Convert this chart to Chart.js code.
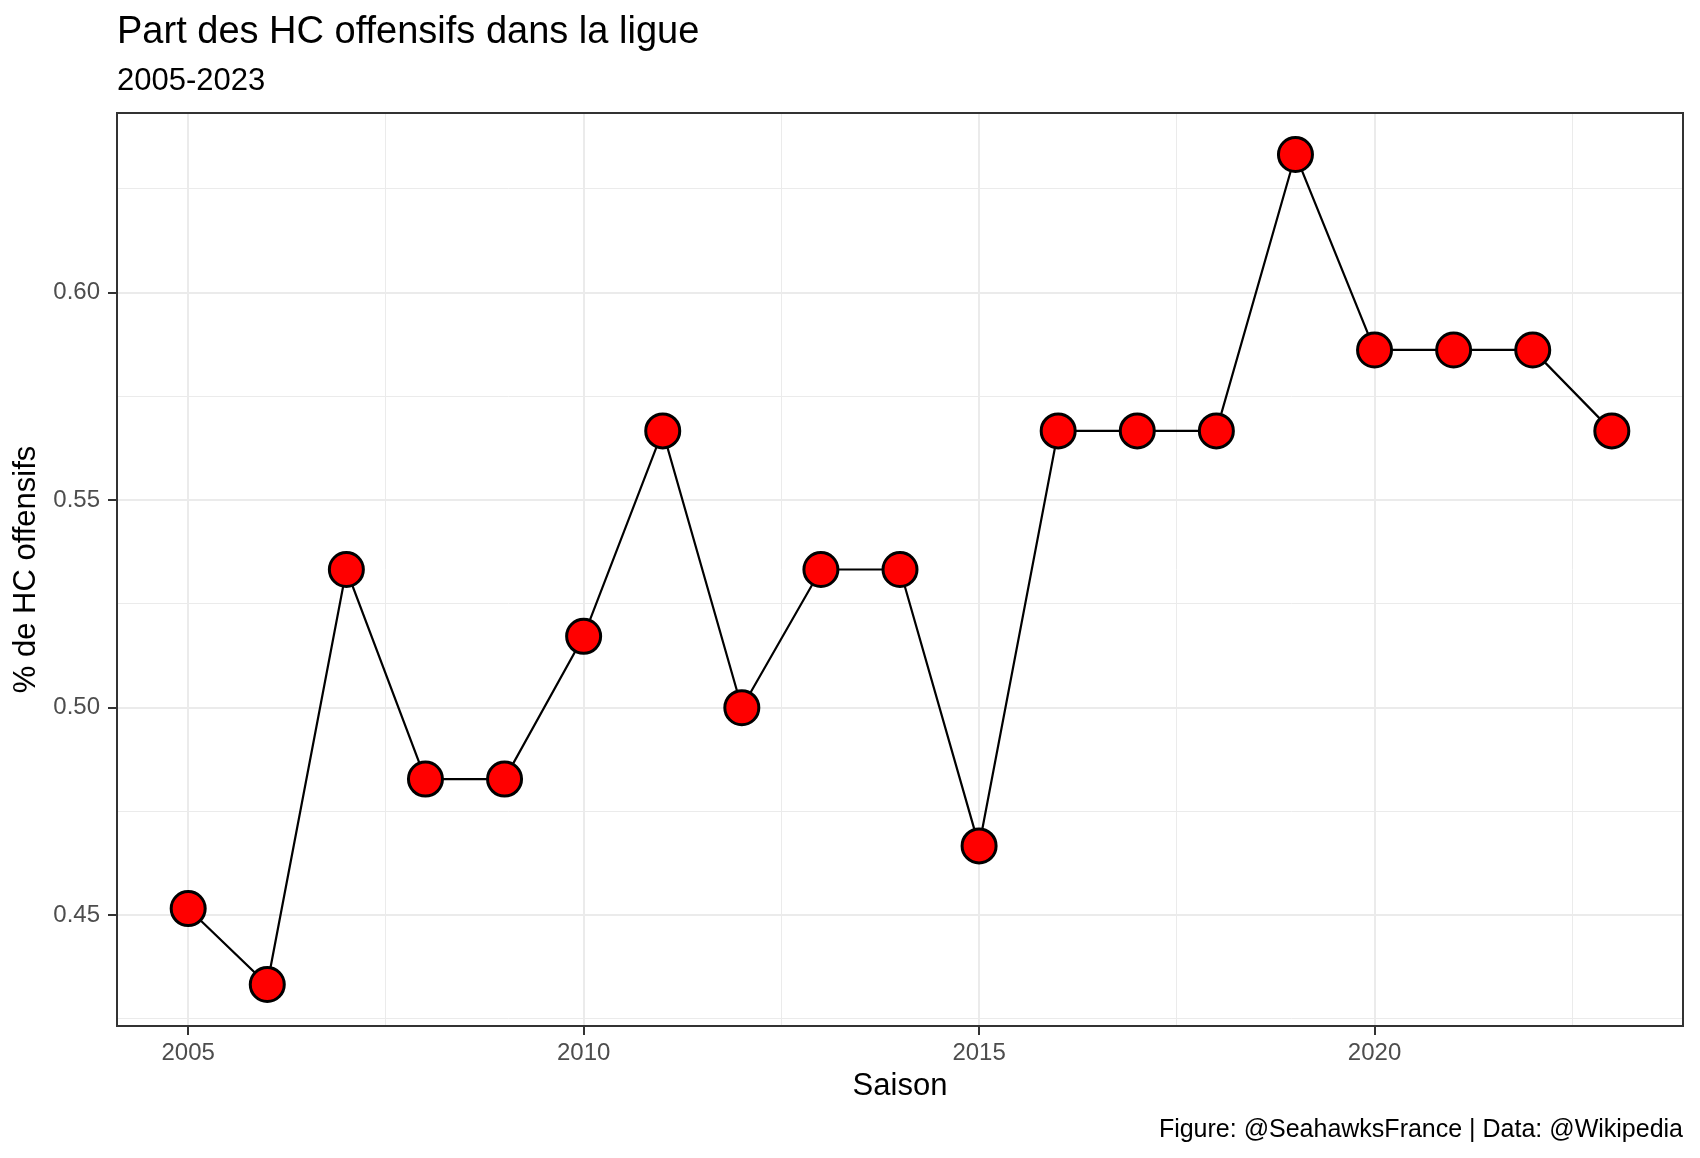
<!DOCTYPE html>
<html>
<head>
<meta charset="utf-8">
<script src="https://cdn.jsdelivr.net/npm/chart.js@4"></script>
<style>
  html, body { margin: 0; padding: 0; background: #fff; }
  #wrap { width: 1700px; height: 1158px; }
</style>
</head>
<body>
<div id="wrap"><canvas id="hc-chart" width="1700" height="1158"></canvas></div>
<script>
// saisons et part des head coachs offensifs
const seasons = [2005, 2006, 2007, 2008, 2009, 2010, 2011, 2012, 2013, 2014,
                 2015, 2016, 2017, 2018, 2019, 2020, 2021, 2022, 2023];
const shareOffensive = [0.4516, 0.4333, 0.5333, 0.4828, 0.4828, 0.5172, 0.5667, 0.5000, 0.5333, 0.5333,
                        0.4667, 0.5667, 0.5667, 0.5667, 0.6333, 0.5862, 0.5862, 0.5862, 0.5667];
const xTicks = [2005, 2007.5, 2010, 2012.5, 2015, 2017.5, 2020, 2022.5];
const yTicks = [0.425, 0.45, 0.475, 0.50, 0.525, 0.55, 0.575, 0.60, 0.625];

const titleText = "Part des HC offensifs dans la ligue";
const subtitleText = "2005-2023";
const captionText = "Figure: @SeahawksFrance | Data: @Wikipedia";

const FONT = "'Liberation Sans', Arial, sans-serif";

const isMajorX = v => Math.abs(v % 5) < 1e-6;
const isMajorY = v => Math.abs(v * 20 - Math.round(v * 20)) < 1e-6;

// titres, légende et cadre du panneau façon ggplot theme_bw
const decorations = {
  id: 'decorations',
  afterDatasetsDraw(chart) {
    const { ctx, chartArea: a } = chart;
    ctx.save();
    ctx.strokeStyle = '#333333';
    ctx.lineWidth = 2;
    ctx.strokeRect(a.left, a.top, a.right - a.left, a.bottom - a.top);
    ctx.restore();
  },
  afterDraw(chart) {
    const { ctx, chartArea: a } = chart;
    ctx.save();
    ctx.fillStyle = '#000';
    ctx.textBaseline = 'alphabetic';
    ctx.textAlign = 'left';
    ctx.font = `38px ${FONT}`;
    ctx.fillText(titleText, a.left, 43);
    ctx.font = `31px ${FONT}`;
    ctx.fillText(subtitleText, a.left, 90);
    ctx.textAlign = 'right';
    ctx.font = `25px ${FONT}`;
    ctx.fillText(captionText, a.right, 1137);
    ctx.restore();
  }
};

const expand = (lo, hi) => [lo - (hi - lo) * 0.05, hi + (hi - lo) * 0.05];
const [xMin, xMax] = expand(Math.min(...seasons), Math.max(...seasons));
const [yMin, yMax] = expand(Math.min(...shareOffensive), Math.max(...shareOffensive));

new Chart(document.getElementById('hc-chart'), {
  type: 'line',
  data: {
    datasets: [{
      data: seasons.map((s, i) => ({ x: s, y: shareOffensive[i] })),
      borderColor: '#000',
      borderWidth: 2.2,
      pointRadius: 17,
      pointHoverRadius: 17,
      pointBorderWidth: 3,
      pointBackgroundColor: '#ff0000',
      pointBorderColor: '#000',
      tension: 0,
      clip: false
    }]
  },
  options: {
    responsive: false,
    animation: false,
    devicePixelRatio: 1,
    layout: { autoPadding: false, padding: { top: 113, right: 17, bottom: 52, left: 0 } },
    plugins: {
      legend: { display: false },
      tooltip: { enabled: false },
      title: { display: false }
    },
    scales: {
      x: {
        type: 'linear',
        min: xMin,
        max: xMax,
        afterBuildTicks: s => { s.ticks = xTicks.map(v => ({ value: v })); },
        afterFit: s => { s.height = 80; s.paddingLeft = 0; s.paddingRight = 0; },
        border: { display: false },
        grid: {
          color: '#ebebeb',
          lineWidth: c => isMajorX(c.tick.value) ? 2 : 1,
          tickColor: c => isMajorX(c.tick.value) ? '#333333' : 'rgba(0,0,0,0)',
          tickWidth: 2,
          tickLength: 9
        },
        ticks: {
          autoSkip: false,
          maxRotation: 0,
          padding: 4,
          color: '#4d4d4d',
          font: { family: FONT, size: 24 },
          callback: v => isMajorX(v) ? String(v) : ''
        },
        title: {
          display: true,
          text: 'Saison',
          color: '#000',
          font: { family: FONT, size: 31 },
          padding: { top: 0, bottom: 1 }
        }
      },
      y: {
        type: 'linear',
        min: yMin,
        max: yMax,
        afterBuildTicks: s => { s.ticks = yTicks.map(v => ({ value: v })); },
        afterFit: s => { s.width = 117; s.paddingTop = 0; s.paddingBottom = 0; },
        border: { display: false },
        grid: {
          color: '#ebebeb',
          lineWidth: c => isMajorY(c.tick.value) ? 2 : 1,
          tickColor: c => isMajorY(c.tick.value) ? '#333333' : 'rgba(0,0,0,0)',
          tickWidth: 2,
          tickLength: 9
        },
        ticks: {
          autoSkip: false,
          padding: 8,
          color: '#4d4d4d',
          font: { family: FONT, size: 24 },
          callback: v => isMajorY(v) ? v.toFixed(2) : ''
        },
        title: {
          display: true,
          text: '% de HC offensifs',
          color: '#000',
          font: { family: FONT, size: 31 },
          padding: { top: 8, bottom: 0 }
        }
      }
    }
  },
  plugins: [decorations]
});
</script>
</body>
</html>
